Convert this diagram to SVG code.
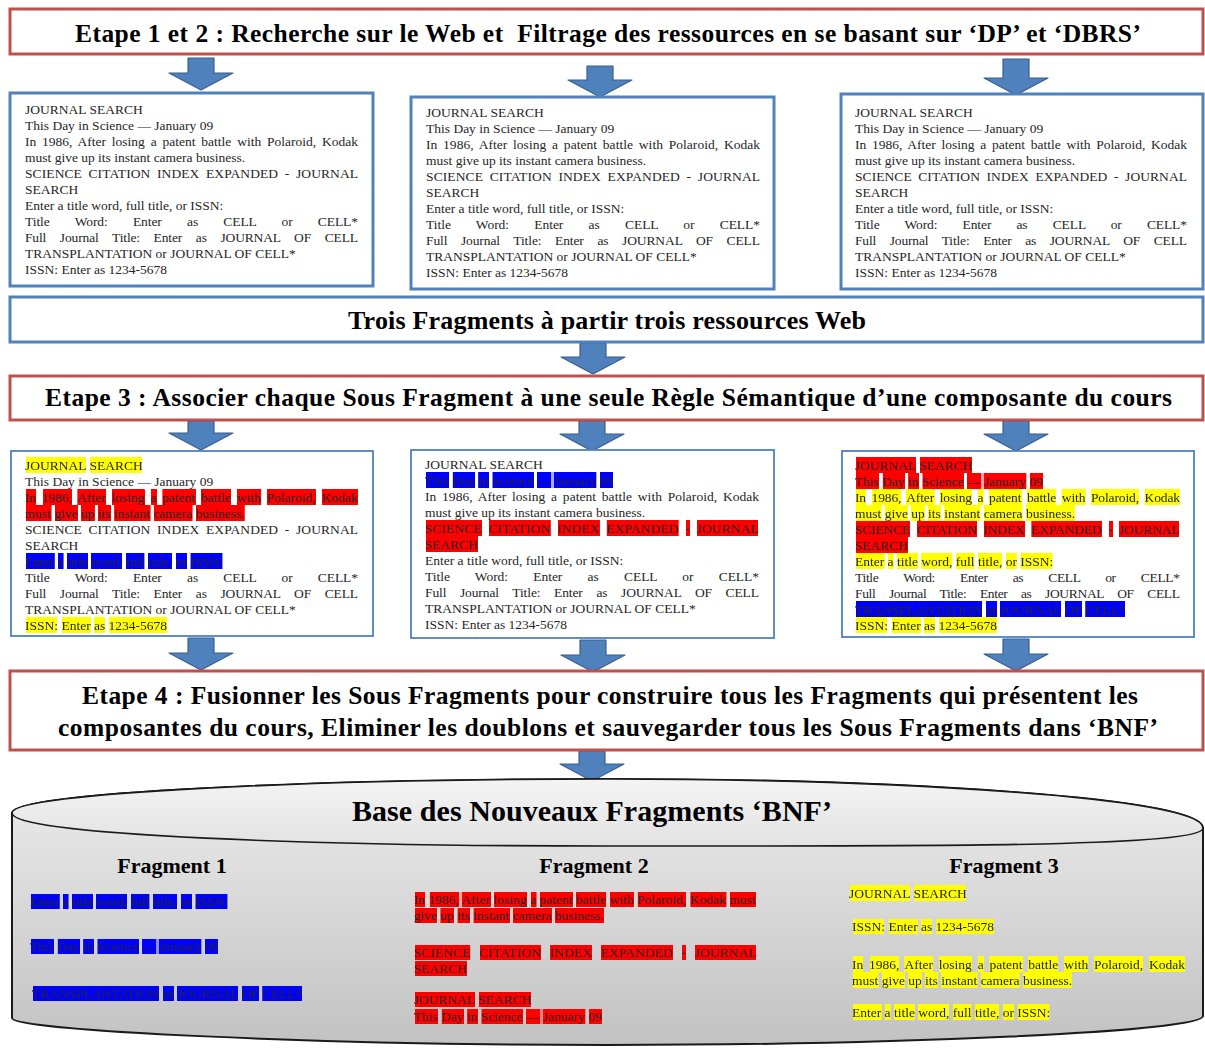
<svg xmlns="http://www.w3.org/2000/svg" width="1205" height="1048" viewBox="0 0 1205 1048">
<defs>
  <style>
    .hd{fill:#fff;stroke:#c0504d;stroke-width:3}
    .bx{fill:#fff;stroke:#4f81bd;stroke-width:3}
    .bx2{fill:#fff;stroke:#4f81bd;stroke-width:1.8}
    .ar{fill:#4f81bd;stroke:#3a5f8c;stroke-width:1.2;stroke-linejoin:round}
    .t{font-family:"Liberation Serif","Times New Roman",serif;font-size:13.5px;fill:#262626}
    .h{font-family:"Liberation Serif","Times New Roman",serif;font-weight:bold;font-size:25.5px;fill:#000;text-anchor:middle}
    .ft{font-family:"Liberation Serif","Times New Roman",serif;font-weight:bold;font-size:22px;fill:#000;text-anchor:middle}
    .j3{word-spacing:2.4px}
    .j5{word-spacing:3.1px}
    .j8{word-spacing:21.9px}
    .j9{word-spacing:10.4px}
    .hy{filter:url(#hl-y)}
    .hr{filter:url(#hl-r)}
    .hb{filter:url(#hl-b)}
  </style>
  <!-- word highlight: glyph coverage is hardened, closed into one block per word,
       then clipped to the line box (filter region = text bbox) -->
  <filter id="hl-y" x="0" y="0" width="1" height="1" color-interpolation-filters="sRGB">
    <feComponentTransfer in="SourceAlpha" result="a"><feFuncA type="linear" slope="6" intercept="0"/></feComponentTransfer>
    <feMorphology in="a" operator="dilate" radius="1.35 12" result="d"/>
    <feMorphology in="d" operator="erode" radius="0.7 0.3" result="m"/>
    <feFlood flood-color="#ffff00"/>
    <feComposite in2="m" operator="in" result="bg"/>
    <feMerge><feMergeNode in="bg"/><feMergeNode in="SourceGraphic"/></feMerge>
  </filter>
  <filter id="hl-r" x="0" y="0" width="1" height="1" color-interpolation-filters="sRGB">
    <feComponentTransfer in="SourceAlpha" result="a"><feFuncA type="linear" slope="6" intercept="0"/></feComponentTransfer>
    <feMorphology in="a" operator="dilate" radius="1.35 12" result="d"/>
    <feMorphology in="d" operator="erode" radius="0.7 0.3" result="m"/>
    <feFlood flood-color="#ff0000"/>
    <feComposite in2="m" operator="in" result="bg"/>
    <feMerge><feMergeNode in="bg"/><feMergeNode in="SourceGraphic"/></feMerge>
  </filter>
  <filter id="hl-b" x="0" y="0" width="1" height="1" color-interpolation-filters="sRGB">
    <feComponentTransfer in="SourceAlpha" result="a"><feFuncA type="linear" slope="6" intercept="0"/></feComponentTransfer>
    <feMorphology in="a" operator="dilate" radius="1.35 12" result="d"/>
    <feMorphology in="d" operator="erode" radius="0.7 0.3" result="m"/>
    <feFlood flood-color="#0000ff"/>
    <feComposite in2="m" operator="in" result="bg"/>
    <feMerge><feMergeNode in="bg"/><feMergeNode in="SourceGraphic"/></feMerge>
  </filter>
  <linearGradient id="canBody" x1="0" y1="0" x2="0" y2="1">
    <stop offset="0" stop-color="#ececec"/>
    <stop offset="1" stop-color="#c2c2c2"/>
  </linearGradient>
  <linearGradient id="canTop" x1="0" y1="0" x2="0" y2="1">
    <stop offset="0" stop-color="#f4f4f4"/>
    <stop offset="1" stop-color="#e2e2e2"/>
  </linearGradient>
</defs>

<rect width="1205" height="1048" fill="#fff"/>

<!-- block arrows -->
<g id="connectors">
  <polygon class="ar" points="188,58 214,58 214,73 233,73 201,90 169,73 188,73"/>
  <polygon class="ar" points="587,66 613,66 613,80 632,80 600,97 568,80 587,80"/>
  <polygon class="ar" points="1003,59 1029,59 1029,78 1048,78 1016,95 984,78 1003,78"/>
  <polygon class="ar" points="580,343 606,343 606,357 625,357 593,374 561,357 580,357"/>
  <polygon class="ar" points="188,421 214,421 214,433 233,433 201,450 169,433 188,433"/>
  <polygon class="ar" points="579,421 605,421 605,434 624,434 592,451 560,434 579,434"/>
  <polygon class="ar" points="1003,421 1029,421 1029,434 1048,434 1016,451 984,434 1003,434"/>
  <polygon class="ar" points="188,638 214,638 214,653 233,653 201,670 169,653 188,653"/>
  <polygon class="ar" points="580,640 606,640 606,655 625,655 593,672 561,655 580,655"/>
  <polygon class="ar" points="1003,639 1029,639 1029,654 1048,654 1016,671 984,654 1003,654"/>
  <polygon class="ar" points="579,751 605,751 605,764 624,764 592,781 560,764 579,764"/>
</g>

<!-- step 1 and 2 -->
<g id="etape12">
  <rect class="hd" x="10" y="9" width="1193" height="45"/>
  <text class="h" x="608" y="41.5" textLength="1066" lengthAdjust="spacing" xml:space="preserve">Etape 1 et 2 : Recherche sur le Web et  Filtrage des ressources en se basant sur ‘DP’ et ‘DBRS’</text>
</g>

<g id="ressource1">
  <rect class="bx" x="10" y="93" width="363" height="193"/>
  <text class="t" x="25" y="113.5">JOURNAL SEARCH</text>
  <text class="t" x="25" y="129.5">This Day in Science — January 09</text>
  <text class="t j3" x="25" y="145.5" textLength="333" lengthAdjust="spacing">In 1986, After losing a patent battle with Polaroid, Kodak</text>
  <text class="t" x="25" y="161.5">must give up its instant camera business.</text>
  <text class="t j5" x="25" y="177.5" textLength="333" lengthAdjust="spacing">SCIENCE CITATION INDEX EXPANDED - JOURNAL</text>
  <text class="t" x="25" y="193.5">SEARCH</text>
  <text class="t" x="25" y="209.5">Enter a title word, full title, or ISSN:</text>
  <text class="t j8" x="25" y="225.5" textLength="333" lengthAdjust="spacing">Title Word: Enter as CELL or CELL*</text>
  <text class="t j9" x="25" y="241.5" textLength="333" lengthAdjust="spacing">Full Journal Title: Enter as JOURNAL OF CELL</text>
  <text class="t" x="25" y="257.5">TRANSPLANTATION or JOURNAL OF CELL*</text>
  <text class="t" x="25" y="273.5">ISSN: Enter as 1234-5678</text>
</g>

<g id="ressource2">
  <rect class="bx" x="411" y="97" width="363" height="192"/>
  <text class="t" x="426" y="116.5">JOURNAL SEARCH</text>
  <text class="t" x="426" y="132.5">This Day in Science — January 09</text>
  <text class="t j3" x="426" y="148.5" textLength="334" lengthAdjust="spacing">In 1986, After losing a patent battle with Polaroid, Kodak</text>
  <text class="t" x="426" y="164.5">must give up its instant camera business.</text>
  <text class="t j5" x="426" y="180.5" textLength="334" lengthAdjust="spacing">SCIENCE CITATION INDEX EXPANDED - JOURNAL</text>
  <text class="t" x="426" y="196.5">SEARCH</text>
  <text class="t" x="426" y="212.5">Enter a title word, full title, or ISSN:</text>
  <text class="t j8" x="426" y="228.5" textLength="334" lengthAdjust="spacing">Title Word: Enter as CELL or CELL*</text>
  <text class="t j9" x="426" y="244.5" textLength="334" lengthAdjust="spacing">Full Journal Title: Enter as JOURNAL OF CELL</text>
  <text class="t" x="426" y="260.5">TRANSPLANTATION or JOURNAL OF CELL*</text>
  <text class="t" x="426" y="276.5">ISSN: Enter as 1234-5678</text>
</g>

<g id="ressource3">
  <rect class="bx" x="841" y="94" width="362" height="195"/>
  <text class="t" x="855" y="116.5">JOURNAL SEARCH</text>
  <text class="t" x="855" y="132.5">This Day in Science — January 09</text>
  <text class="t j3" x="855" y="148.5" textLength="332" lengthAdjust="spacing">In 1986, After losing a patent battle with Polaroid, Kodak</text>
  <text class="t" x="855" y="164.5">must give up its instant camera business.</text>
  <text class="t j5" x="855" y="180.5" textLength="332" lengthAdjust="spacing">SCIENCE CITATION INDEX EXPANDED - JOURNAL</text>
  <text class="t" x="855" y="196.5">SEARCH</text>
  <text class="t" x="855" y="212.5">Enter a title word, full title, or ISSN:</text>
  <text class="t j8" x="855" y="228.5" textLength="332" lengthAdjust="spacing">Title Word: Enter as CELL or CELL*</text>
  <text class="t j9" x="855" y="244.5" textLength="332" lengthAdjust="spacing">Full Journal Title: Enter as JOURNAL OF CELL</text>
  <text class="t" x="855" y="260.5">TRANSPLANTATION or JOURNAL OF CELL*</text>
  <text class="t" x="855" y="276.5">ISSN: Enter as 1234-5678</text>
</g>

<g id="trois-fragments">
  <rect class="bx" x="10" y="297" width="1193" height="45"/>
  <text class="h" x="607" y="329" style="font-size:26px" textLength="518" lengthAdjust="spacing">Trois Fragments à partir trois ressources Web</text>
</g>

<!-- step 3 -->
<g id="etape3">
  <rect class="hd" x="10" y="376" width="1193" height="44"/>
  <text class="h" x="608.5" y="406" textLength="1127" lengthAdjust="spacing">Etape 3 : Associer chaque Sous Fragment à une seule Règle Sémantique d’une composante du cours</text>
</g>

<g id="fragment-annote1">
  <rect class="bx2" x="11" y="451" width="362" height="185"/>
  <text class="t hy" x="25" y="469.5">JOURNAL SEARCH</text>
  <text class="t" x="25" y="485.5">This Day in Science — January 09</text>
  <text class="t j3 hr" x="25" y="501.5" textLength="333" lengthAdjust="spacing">In 1986, After losing a patent battle with Polaroid, Kodak</text>
  <text class="t hr" x="25" y="517.5">must give up its instant camera business.</text>
  <text class="t j5" x="25" y="533.5" textLength="333" lengthAdjust="spacing">SCIENCE CITATION INDEX EXPANDED - JOURNAL</text>
  <text class="t" x="25" y="549.5">SEARCH</text>
  <text class="t hb" x="25" y="565.5">Enter a title word, full title, or ISSN:</text>
  <text class="t j8" x="25" y="581.5" textLength="333" lengthAdjust="spacing">Title Word: Enter as CELL or CELL*</text>
  <text class="t j9" x="25" y="597.5" textLength="333" lengthAdjust="spacing">Full Journal Title: Enter as JOURNAL OF CELL</text>
  <text class="t" x="25" y="613.5">TRANSPLANTATION or JOURNAL OF CELL*</text>
  <text class="t hy" x="25" y="629.5">ISSN: Enter as 1234-5678</text>
</g>

<g id="fragment-annote2">
  <rect class="bx2" x="411" y="450" width="363" height="188"/>
  <text class="t" x="425" y="468.5">JOURNAL SEARCH</text>
  <text class="t hb" x="425" y="484.5">This Day in Science — January 09</text>
  <text class="t j3" x="425" y="500.5" textLength="334" lengthAdjust="spacing">In 1986, After losing a patent battle with Polaroid, Kodak</text>
  <text class="t" x="425" y="516.5">must give up its instant camera business.</text>
  <text class="t j5 hr" x="425" y="532.5" textLength="334" lengthAdjust="spacing">SCIENCE CITATION INDEX EXPANDED - JOURNAL</text>
  <text class="t hr" x="425" y="548.5">SEARCH</text>
  <text class="t" x="425" y="564.5">Enter a title word, full title, or ISSN:</text>
  <text class="t j8" x="425" y="580.5" textLength="334" lengthAdjust="spacing">Title Word: Enter as CELL or CELL*</text>
  <text class="t j9" x="425" y="596.5" textLength="334" lengthAdjust="spacing">Full Journal Title: Enter as JOURNAL OF CELL</text>
  <text class="t" x="425" y="612.5">TRANSPLANTATION or JOURNAL OF CELL*</text>
  <text class="t" x="425" y="628.5">ISSN: Enter as 1234-5678</text>
</g>

<g id="fragment-annote3">
  <rect class="bx2" x="842" y="451" width="352" height="186"/>
  <text class="t hr" x="855" y="469.5">JOURNAL SEARCH</text>
  <text class="t hr" x="855" y="485.5">This Day in Science — January 09</text>
  <text class="t j3 hy" x="855" y="501.5" textLength="325" lengthAdjust="spacing">In 1986, After losing a patent battle with Polaroid, Kodak</text>
  <text class="t hy" x="855" y="517.5">must give up its instant camera business.</text>
  <text class="t j5 hr" x="855" y="533.5" textLength="325" lengthAdjust="spacing">SCIENCE CITATION INDEX EXPANDED - JOURNAL</text>
  <text class="t hr" x="855" y="549.5">SEARCH</text>
  <text class="t hy" x="855" y="565.5">Enter a title word, full title, or ISSN:</text>
  <text class="t j8" x="855" y="581.5" textLength="325" lengthAdjust="spacing">Title Word: Enter as CELL or CELL*</text>
  <text class="t j9" x="855" y="597.5" textLength="325" lengthAdjust="spacing">Full Journal Title: Enter as JOURNAL OF CELL</text>
  <text class="t hb" x="855" y="613.5">TRANSPLANTATION or JOURNAL OF CELL*</text>
  <text class="t hy" x="855" y="629.5">ISSN: Enter as 1234-5678</text>
</g>

<!-- step 4 -->
<g id="etape4">
  <rect class="hd" x="10" y="671" width="1193" height="79"/>
  <text class="h" x="610" y="704" textLength="1056" lengthAdjust="spacing">Etape 4 : Fusionner les Sous Fragments pour construire tous les Fragments qui présentent les</text>
  <text class="h" x="608" y="736" textLength="1100" lengthAdjust="spacing">composantes du cours, Eliminer les doublons et sauvegarder tous les Sous Fragments dans ‘BNF’</text>
</g>

<!-- BNF database drum -->
<g id="bnf">
  <path d="M12,813 L12,1018 C12,1031 330,1045 607,1045 C890,1045 1203,1032 1203,1016 L1203,828 C1203,797 890,779 607,779 C330,779 12,792 12,813 Z" fill="url(#canBody)" stroke="#1a1a1a" stroke-width="2"/>
  <path d="M12,813 C12,792 330,779 607,779 C890,779 1203,797 1203,828 C1203,848 900,846 607,846 C330,846 12,836 12,813 Z" fill="url(#canTop)" stroke="#1a1a1a" stroke-width="1.6"/>
  <text class="h" x="592" y="821" style="font-size:30px" textLength="480" lengthAdjust="spacing">Base des Nouveaux Fragments ‘BNF’</text>

  <g id="fragment1">
    <text class="ft" x="172" y="873">Fragment 1</text>
    <text class="t hb" x="30" y="906">Enter a title word, full title, or ISSN:</text>
    <text class="t hb" x="30" y="951">This Day in Science — January 09</text>
    <text class="t hb" x="32" y="998">TRANSPLANTATION or JOURNAL OF CELL*</text>
  </g>

  <g id="fragment2">
    <text class="ft" x="594" y="873">Fragment 2</text>
    <text class="t hr" x="414" y="904" textLength="342" lengthAdjust="spacing">In 1986, After losing a patent battle with Polaroid, Kodak must</text>
    <text class="t hr" x="414" y="920">give up its instant camera business.</text>
    <text class="t hr" x="414" y="957" style="word-spacing:5.1px" textLength="343" lengthAdjust="spacing">SCIENCE CITATION INDEX EXPANDED - JOURNAL</text>
    <text class="t hr" x="414" y="973">SEARCH</text>
    <text class="t hr" x="414" y="1004">JOURNAL SEARCH</text>
    <text class="t hr" x="414" y="1021">This Day in Science — January 09</text>
  </g>

  <g id="fragment3">
    <text class="ft" x="1004" y="873">Fragment 3</text>
    <text class="t hy" x="849" y="897.5">JOURNAL SEARCH</text>
    <text class="t hy" x="852" y="931">ISSN: Enter as 1234-5678</text>
    <text class="t j3 hy" x="852" y="968.5" textLength="333" lengthAdjust="spacing">In 1986, After losing a patent battle with Polaroid, Kodak</text>
    <text class="t hy" x="852" y="984.5">must give up its instant camera business.</text>
    <text class="t hy" x="852" y="1016.5">Enter a title word, full title, or ISSN:</text>
  </g>
</g>
</svg>
